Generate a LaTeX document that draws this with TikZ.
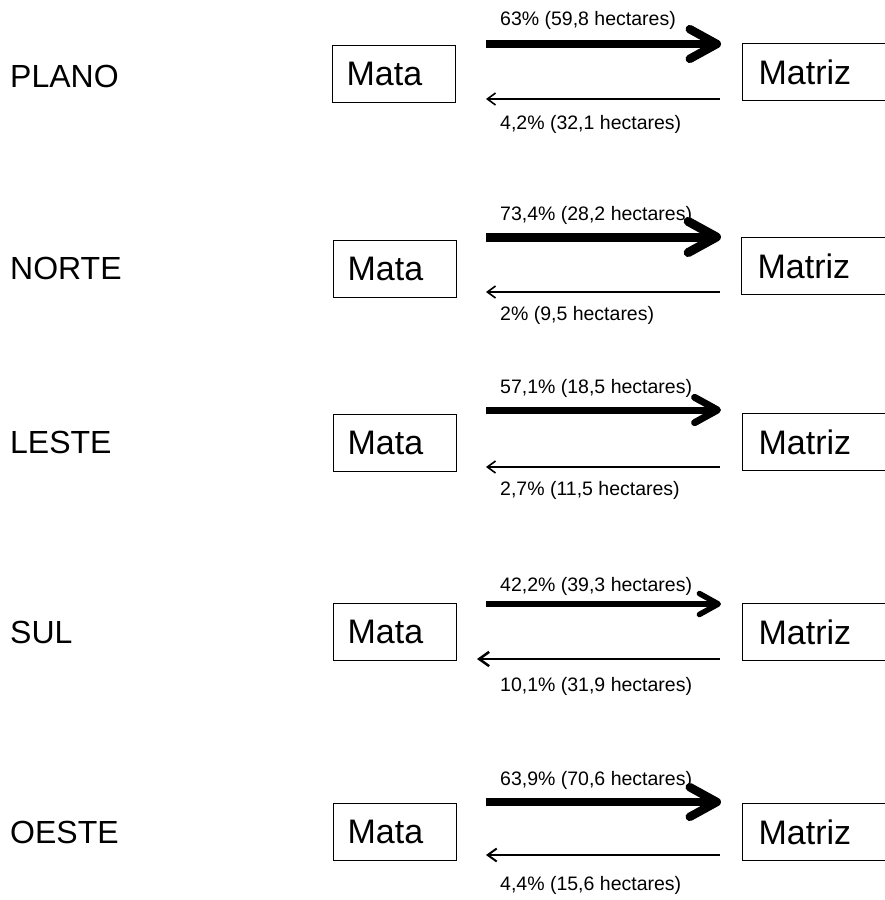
\documentclass[tikz,border=0pt]{standalone}
\usepackage{fontspec}
\setmainfont{Liberation Sans}
\usetikzlibrary{arrows.meta}
\tikzset{
  region/.style={font=\fontsize{32}{36}\selectfont, anchor=west, inner sep=0pt},
  matabox/.style={draw, line width=1.2pt, font=\fontsize{34}{38}\selectfont, align=left,
    inner ysep=0pt, inner xsep=14pt, text width=95pt, minimum height=57pt, anchor=north west},
  matrizbox/.style={draw, line width=1.2pt, font=\fontsize{34}{38}\selectfont, align=left,
    inner ysep=0pt, inner xsep=16pt, text width=112pt, minimum height=57pt, anchor=north west},
  pct/.style={font=\fontsize{19.5}{22}\selectfont, anchor=west, inner sep=0pt},
  fwd/.style={line width=#1, -{Straight Barb[length=4pt 2.7, width=5pt 2.9, round]}},
  bwd/.style={line width=#1, -{Straight Barb[length=5pt 2, width=8pt 2.5]}},
}
\begin{document}
\begin{tikzpicture}[x=1pt, y=-1pt]
\useasboundingbox (0,0) rectangle (885,900);

% PLANO
\node[region] (r1) at (10,76) {PLANO};
\node[matabox] (m1) at (332,45) {Mata};
\node[matrizbox] (z1) at (742,43) {Matriz};
\coordinate (a1s) at (486,44); \coordinate (a1e) at (721,44);
\coordinate (b1s) at (720,99); \coordinate (b1e) at (486,99);
\draw[fwd=8.5pt] (a1s) -- (a1e);
\draw[bwd=1.6pt] (b1s) -- (b1e);
\node[pct] (t1) at (500,20) {63\% (59,8 hectares)};
\node[pct] (u1) at (500,124) {4,2\% (32,1 hectares)};

% NORTE
\node[region] (r2) at (10,268) {NORTE};
\node[matabox] (m2) at (333,240) {Mata};
\node[matrizbox] (z2) at (741,237) {Matriz};
\coordinate (a2s) at (486,237); \coordinate (a2e) at (721,237);
\coordinate (b2s) at (720,292); \coordinate (b2e) at (486,292);
\draw[fwd=9pt] (a2s) -- (a2e);
\draw[bwd=1.6pt] (b2s) -- (b2e);
\node[pct] (t2) at (500,215) {73,4\% (28,2 hectares)};
\node[pct] (u2) at (500,315) {2\% (9,5 hectares)};

% LESTE
\node[region] (r3) at (10,442) {LESTE};
\node[matabox] (m3) at (333,414) {Mata};
\node[matrizbox] (z3) at (742,413) {Matriz};
\coordinate (a3s) at (486,410); \coordinate (a3e) at (721,410);
\coordinate (b3s) at (720,467); \coordinate (b3e) at (486,467);
\draw[fwd=7pt] (a3s) -- (a3e);
\draw[bwd=1.6pt] (b3s) -- (b3e);
\node[pct] (t3) at (500,388) {57,1\% (18,5 hectares)};
\node[pct] (u3) at (500,490) {2,7\% (11,5 hectares)};

% SUL
\node[region] (r4) at (10,632) {SUL};
\node[matabox] (m4) at (333,603) {Mata};
\node[matrizbox] (z4) at (742,603) {Matriz};
\coordinate (a4s) at (486,604); \coordinate (a4e) at (721,604);
\coordinate (b4s) at (720,659); \coordinate (b4e) at (477,659);
\draw[fwd=5.5pt] (a4s) -- (a4e);
\draw[bwd=2.5pt] (b4s) -- (b4e);
\node[pct] (t4) at (500,586) {42,2\% (39,3 hectares)};
\node[pct] (u4) at (500,686) {10,1\% (31,9 hectares)};

% OESTE
\node[region] (r5) at (10,832) {OESTE};
\node[matabox] (m5) at (333,803) {Mata};
\node[matrizbox] (z5) at (742,803) {Matriz};
\coordinate (a5s) at (486,802); \coordinate (a5e) at (721,802);
\coordinate (b5s) at (720,855); \coordinate (b5e) at (486,855);
\draw[fwd=8.5pt] (a5s) -- (a5e);
\draw[bwd=2pt] (b5s) -- (b5e);
\node[pct] (t5) at (500,780) {63,9\% (70,6 hectares)};
\node[pct] (u5) at (500,885) {4,4\% (15,6 hectares)};
\end{tikzpicture}
\end{document}
